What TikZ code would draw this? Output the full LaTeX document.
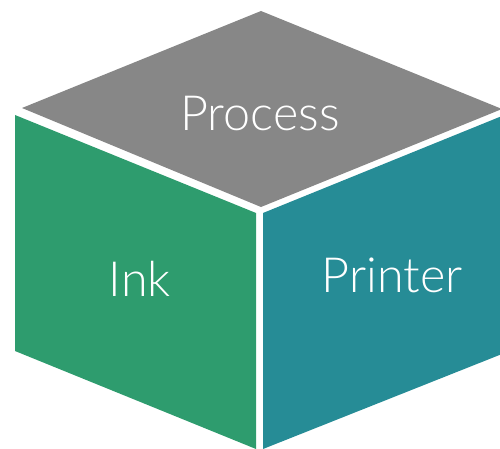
\documentclass[tikz,border=0pt]{standalone}
\usepackage{fontspec}
\newfontfamily\facefont{Lato}[UprightFont={* Light}]
\definecolor{topgray}  {HTML}{878787}
\definecolor{inkgreen} {HTML}{2E9C6E}
\definecolor{printteal}{HTML}{268C96}

\begin{document}
\begin{tikzpicture}[x=1pt, y=-1pt,
  % pixel grid of the reference, y running down
  facelabel/.style={text=white, anchor=base, inner sep=0pt,
                    font=\facefont\fontsize{48.5}{48.5}\selectfont}
]
\useasboundingbox (0,0) rectangle (500,449);

% the three faces of the cube
\fill[topgray]   (261,11) -- (502,109) -- (261,207) -- (22,108) -- cycle;
\fill[inkgreen]  (15,115) -- (256,213) -- (256,449) -- (15,351) -- cycle;
\fill[printteal] (263,213) -- (502,116) -- (502,354) -- (263,449) -- cycle;

\node[facelabel] (process) at (260,131) {Process};
\node[facelabel] (ink)     at (140,296) {Ink};
\node[facelabel] (printer) at (392,292) {Printer};

\end{tikzpicture}
\end{document}
